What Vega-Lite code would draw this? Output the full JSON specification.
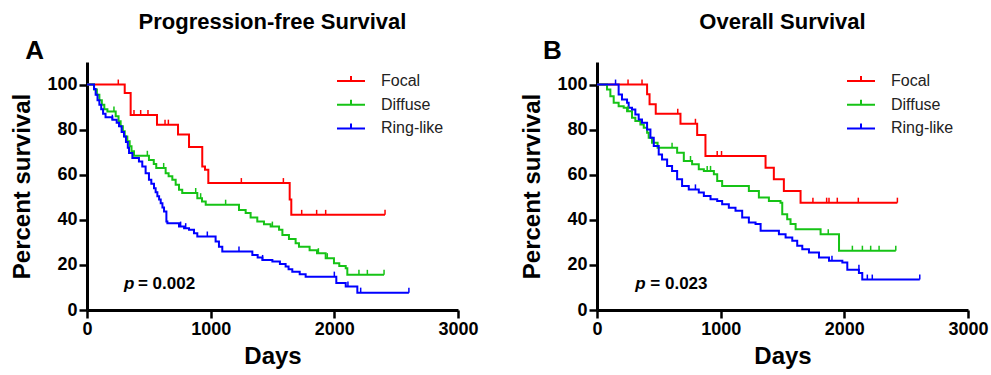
{
  "$schema": "https://vega.github.io/schema/vega-lite/v6.json",
  "padding": {"left": 10, "top": 11, "right": 5, "bottom": 5},
  "background": "white",
  "datasets": {
    "pfs": [
      {"g":"Focal","d":0,"s":100},{"g":"Focal","d":305,"s":96.3},{"g":"Focal","d":353,"s":86.5},{"g":"Focal","d":566,"s":82.2},{"g":"Focal","d":736,"s":77.8},{"g":"Focal","d":825,"s":72.3},{"g":"Focal","d":932,"s":63.7},{"g":"Focal","d":954,"s":62.2},{"g":"Focal","d":981,"s":56.3},{"g":"Focal","d":1639,"s":49},{"g":"Focal","d":1652,"s":42.2},{"g":"Focal","d":2410,"s":42.2},
      {"g":"Diffuse","d":0,"s":100},{"g":"Diffuse","d":57,"s":97.8},{"g":"Diffuse","d":80,"s":95.5},{"g":"Diffuse","d":100,"s":93},{"g":"Diffuse","d":120,"s":91},{"g":"Diffuse","d":140,"s":89},{"g":"Diffuse","d":165,"s":88},{"g":"Diffuse","d":232,"s":85.9},{"g":"Diffuse","d":255,"s":83.7},{"g":"Diffuse","d":272,"s":81.5},{"g":"Diffuse","d":290,"s":79.3},{"g":"Diffuse","d":305,"s":77},{"g":"Diffuse","d":326,"s":74.8},{"g":"Diffuse","d":345,"s":72.6},{"g":"Diffuse","d":360,"s":70.4},{"g":"Diffuse","d":380,"s":68.4},{"g":"Diffuse","d":501,"s":66.5},{"g":"Diffuse","d":540,"s":64.8},{"g":"Diffuse","d":560,"s":63},{"g":"Diffuse","d":636,"s":60.7},{"g":"Diffuse","d":660,"s":59.3},{"g":"Diffuse","d":690,"s":57.8},{"g":"Diffuse","d":717,"s":55.5},{"g":"Diffuse","d":744,"s":53.3},{"g":"Diffuse","d":770,"s":51.9},{"g":"Diffuse","d":892,"s":49.6},{"g":"Diffuse","d":930,"s":48.1},{"g":"Diffuse","d":960,"s":46.7},{"g":"Diffuse","d":1229,"s":44.4},{"g":"Diffuse","d":1283,"s":43},{"g":"Diffuse","d":1323,"s":41},{"g":"Diffuse","d":1377,"s":39.3},{"g":"Diffuse","d":1431,"s":38},{"g":"Diffuse","d":1485,"s":37},{"g":"Diffuse","d":1553,"s":35.6},{"g":"Diffuse","d":1580,"s":33.3},{"g":"Diffuse","d":1633,"s":31.5},{"g":"Diffuse","d":1687,"s":29.6},{"g":"Diffuse","d":1714,"s":28},{"g":"Diffuse","d":1800,"s":26.5},{"g":"Diffuse","d":1860,"s":25.2},{"g":"Diffuse","d":1930,"s":23},{"g":"Diffuse","d":1997,"s":20.7},{"g":"Diffuse","d":2040,"s":19.5},{"g":"Diffuse","d":2092,"s":18.5},{"g":"Diffuse","d":2105,"s":15.6},{"g":"Diffuse","d":2402,"s":15.6},
      {"g":"Ring-like","d":0,"s":100},{"g":"Ring-like","d":57,"s":98},{"g":"Ring-like","d":70,"s":95.5},{"g":"Ring-like","d":85,"s":93},{"g":"Ring-like","d":100,"s":91},{"g":"Ring-like","d":115,"s":89},{"g":"Ring-like","d":130,"s":87},{"g":"Ring-like","d":150,"s":85.5},{"g":"Ring-like","d":205,"s":84.4},{"g":"Ring-like","d":240,"s":83},{"g":"Ring-like","d":259,"s":81.5},{"g":"Ring-like","d":280,"s":79},{"g":"Ring-like","d":299,"s":77},{"g":"Ring-like","d":315,"s":74.5},{"g":"Ring-like","d":330,"s":72},{"g":"Ring-like","d":340,"s":69.6},{"g":"Ring-like","d":367,"s":67.4},{"g":"Ring-like","d":420,"s":65.9},{"g":"Ring-like","d":447,"s":63.7},{"g":"Ring-like","d":474,"s":60.7},{"g":"Ring-like","d":501,"s":57.8},{"g":"Ring-like","d":520,"s":56},{"g":"Ring-like","d":542,"s":54},{"g":"Ring-like","d":555,"s":52.2},{"g":"Ring-like","d":569,"s":50.4},{"g":"Ring-like","d":583,"s":49},{"g":"Ring-like","d":596,"s":47.4},{"g":"Ring-like","d":610,"s":45.5},{"g":"Ring-like","d":623,"s":43.7},{"g":"Ring-like","d":642,"s":39.3},{"g":"Ring-like","d":650,"s":38.5},{"g":"Ring-like","d":744,"s":37},{"g":"Ring-like","d":785,"s":36.3},{"g":"Ring-like","d":825,"s":35.6},{"g":"Ring-like","d":865,"s":34},{"g":"Ring-like","d":892,"s":32.6},{"g":"Ring-like","d":1040,"s":30.4},{"g":"Ring-like","d":1067,"s":28.1},{"g":"Ring-like","d":1094,"s":25.9},{"g":"Ring-like","d":1337,"s":24.4},{"g":"Ring-like","d":1380,"s":23.3},{"g":"Ring-like","d":1418,"s":22.2},{"g":"Ring-like","d":1499,"s":21.5},{"g":"Ring-like","d":1560,"s":20.4},{"g":"Ring-like","d":1606,"s":19.3},{"g":"Ring-like","d":1630,"s":18.1},{"g":"Ring-like","d":1660,"s":17},{"g":"Ring-like","d":1720,"s":15.9},{"g":"Ring-like","d":1768,"s":14.8},{"g":"Ring-like","d":2016,"s":12},{"g":"Ring-like","d":2092,"s":10.4},{"g":"Ring-like","d":2186,"s":7.7},{"g":"Ring-like","d":2603,"s":7.7}
    ],
    "pfsC": [
      {"g":"Focal","d":253,"s":100},{"g":"Focal","d":380,"s":86.5},{"g":"Focal","d":434,"s":86.5},{"g":"Focal","d":493,"s":86.5},{"g":"Focal","d":631,"s":82.2},{"g":"Focal","d":658,"s":82.2},{"g":"Focal","d":1248,"s":56.3},{"g":"Focal","d":1588,"s":56.3},{"g":"Focal","d":1736,"s":42.2},{"g":"Focal","d":1857,"s":42.2},{"g":"Focal","d":1930,"s":42.2},{"g":"Focal","d":2410,"s":42.2},
      {"g":"Diffuse","d":218,"s":88},{"g":"Diffuse","d":488,"s":68.4},{"g":"Diffuse","d":620,"s":63},{"g":"Diffuse","d":879,"s":51.9},{"g":"Diffuse","d":919,"s":49.6},{"g":"Diffuse","d":1121,"s":46.7},{"g":"Diffuse","d":1499,"s":37},{"g":"Diffuse","d":1871,"s":25.2},{"g":"Diffuse","d":1943,"s":23},{"g":"Diffuse","d":2199,"s":15.6},{"g":"Diffuse","d":2267,"s":15.6},{"g":"Diffuse","d":2402,"s":15.6},
      {"g":"Ring-like","d":205,"s":84.4},{"g":"Ring-like","d":757,"s":37},{"g":"Ring-like","d":798,"s":36.3},{"g":"Ring-like","d":973,"s":32.6},{"g":"Ring-like","d":1229,"s":25.9},{"g":"Ring-like","d":1420,"s":22.2},{"g":"Ring-like","d":2000,"s":14.8},{"g":"Ring-like","d":2110,"s":10.4},{"g":"Ring-like","d":2213,"s":7.7},{"g":"Ring-like","d":2603,"s":7.7}
    ],
    "os": [
      {"g":"Focal","d":0,"s":100},{"g":"Focal","d":405,"s":95.7},{"g":"Focal","d":425,"s":91.3},{"g":"Focal","d":475,"s":87},{"g":"Focal","d":675,"s":82.6},{"g":"Focal","d":810,"s":77.6},{"g":"Focal","d":877,"s":68.3},{"g":"Focal","d":1363,"s":63.1},{"g":"Focal","d":1430,"s":58},{"g":"Focal","d":1511,"s":52.8},{"g":"Focal","d":1646,"s":47.6},{"g":"Focal","d":2429,"s":47.6},
      {"g":"Diffuse","d":0,"s":100},{"g":"Diffuse","d":81,"s":97.8},{"g":"Diffuse","d":108,"s":94.8},{"g":"Diffuse","d":135,"s":91.9},{"g":"Diffuse","d":175,"s":90.4},{"g":"Diffuse","d":216,"s":89.7},{"g":"Diffuse","d":243,"s":88.2},{"g":"Diffuse","d":283,"s":85.3},{"g":"Diffuse","d":310,"s":83.8},{"g":"Diffuse","d":351,"s":82.3},{"g":"Diffuse","d":378,"s":80.8},{"g":"Diffuse","d":405,"s":78.6},{"g":"Diffuse","d":418,"s":76.4},{"g":"Diffuse","d":445,"s":74.2},{"g":"Diffuse","d":490,"s":72},{"g":"Diffuse","d":648,"s":69.8},{"g":"Diffuse","d":702,"s":66.1},{"g":"Diffuse","d":769,"s":64.6},{"g":"Diffuse","d":823,"s":62.4},{"g":"Diffuse","d":864,"s":61.7},{"g":"Diffuse","d":945,"s":60.2},{"g":"Diffuse","d":972,"s":57.2},{"g":"Diffuse","d":1012,"s":55},{"g":"Diffuse","d":1228,"s":52.8},{"g":"Diffuse","d":1309,"s":49.9},{"g":"Diffuse","d":1390,"s":48.4},{"g":"Diffuse","d":1484,"s":47.6},{"g":"Diffuse","d":1498,"s":42.5},{"g":"Diffuse","d":1538,"s":40.3},{"g":"Diffuse","d":1565,"s":38.1},{"g":"Diffuse","d":1606,"s":35.8},{"g":"Diffuse","d":1808,"s":33.6},{"g":"Diffuse","d":1957,"s":26.3},{"g":"Diffuse","d":2416,"s":26.3},
      {"g":"Ring-like","d":0,"s":100},{"g":"Ring-like","d":175,"s":95.6},{"g":"Ring-like","d":202,"s":93.4},{"g":"Ring-like","d":243,"s":91.9},{"g":"Ring-like","d":256,"s":89.7},{"g":"Ring-like","d":283,"s":88.9},{"g":"Ring-like","d":310,"s":86.7},{"g":"Ring-like","d":337,"s":84.5},{"g":"Ring-like","d":364,"s":83},{"g":"Ring-like","d":405,"s":80.1},{"g":"Ring-like","d":432,"s":76.4},{"g":"Ring-like","d":459,"s":72.7},{"g":"Ring-like","d":499,"s":69},{"g":"Ring-like","d":526,"s":66.8},{"g":"Ring-like","d":567,"s":63.9},{"g":"Ring-like","d":607,"s":61.7},{"g":"Ring-like","d":648,"s":58},{"g":"Ring-like","d":688,"s":55},{"g":"Ring-like","d":742,"s":53.5},{"g":"Ring-like","d":823,"s":52.1},{"g":"Ring-like","d":864,"s":50.6},{"g":"Ring-like","d":918,"s":49.1},{"g":"Ring-like","d":972,"s":48.4},{"g":"Ring-like","d":1012,"s":46.9},{"g":"Ring-like","d":1066,"s":45.4},{"g":"Ring-like","d":1120,"s":44},{"g":"Ring-like","d":1174,"s":41},{"g":"Ring-like","d":1228,"s":38.8},{"g":"Ring-like","d":1282,"s":38.1},{"g":"Ring-like","d":1323,"s":35.1},{"g":"Ring-like","d":1471,"s":33.6},{"g":"Ring-like","d":1525,"s":32.2},{"g":"Ring-like","d":1579,"s":30.7},{"g":"Ring-like","d":1619,"s":28.5},{"g":"Ring-like","d":1660,"s":27},{"g":"Ring-like","d":1714,"s":25.5},{"g":"Ring-like","d":1795,"s":23.3},{"g":"Ring-like","d":1876,"s":21.8},{"g":"Ring-like","d":1984,"s":21.1},{"g":"Ring-like","d":2024,"s":17.9},{"g":"Ring-like","d":2118,"s":16.4},{"g":"Ring-like","d":2145,"s":13.5},{"g":"Ring-like","d":2610,"s":13.5}
    ],
    "osC": [
      {"g":"Focal","d":251,"s":100},{"g":"Focal","d":364,"s":100},{"g":"Focal","d":653,"s":87},{"g":"Focal","d":796,"s":82.6},{"g":"Focal","d":972,"s":68.3},{"g":"Focal","d":1007,"s":68.3},{"g":"Focal","d":1746,"s":47.6},{"g":"Focal","d":1857,"s":47.6},{"g":"Focal","d":1876,"s":47.6},{"g":"Focal","d":1943,"s":47.6},{"g":"Focal","d":2113,"s":47.6},{"g":"Focal","d":2429,"s":47.6},
      {"g":"Diffuse","d":251,"s":88.2},{"g":"Diffuse","d":607,"s":72},{"g":"Diffuse","d":756,"s":66.1},{"g":"Diffuse","d":891,"s":61.7},{"g":"Diffuse","d":918,"s":61.7},{"g":"Diffuse","d":1870,"s":33.6},{"g":"Diffuse","d":2065,"s":26.3},{"g":"Diffuse","d":2146,"s":26.3},{"g":"Diffuse","d":2213,"s":26.3},{"g":"Diffuse","d":2281,"s":26.3},{"g":"Diffuse","d":2416,"s":26.3},
      {"g":"Ring-like","d":150,"s":100},{"g":"Ring-like","d":796,"s":53.5},{"g":"Ring-like","d":1900,"s":21.8},{"g":"Ring-like","d":2118,"s":17.9},{"g":"Ring-like","d":2186,"s":13.5},{"g":"Ring-like","d":2226,"s":13.5},{"g":"Ring-like","d":2610,"s":13.5}
    ]
  },
  "hconcat": [
    {
      "title": {"text": "Progression-free Survival", "frame": "group"},
      "width": 371,
      "height": 248,
      "layer": [
        {
          "data": {"name": "pfs"},
          "mark": {"type": "line", "interpolate": "step-after", "strokeWidth": 2},
          "encoding": {
            "x": {"field": "d", "type": "quantitative", "title": "Days", "scale": {"domain": [0, 3000], "nice": false}, "axis": {"values": [0, 1000, 2000, 3000], "format": "d"}},
            "y": {"field": "s", "type": "quantitative", "title": "Percent survival", "scale": {"domain": [0, 110], "nice": false}, "axis": {"values": [0, 20, 40, 60, 80, 100], "format": "d"}},
            "color": {"field": "g", "type": "nominal", "scale": {"domain": ["Focal", "Diffuse", "Ring-like"], "range": ["#ff0000", "#16c316", "#0000ff"]}, "legend": {"title": null}}
          }
        },
        {
          "data": {"name": "pfsC"},
          "mark": {"type": "point", "shape": "M0,0L0,-1", "size": 100, "filled": false, "strokeWidth": 1.5, "opacity": 1},
          "encoding": {
            "x": {"field": "d", "type": "quantitative"},
            "y": {"field": "s", "type": "quantitative"},
            "color": {"field": "g", "type": "nominal", "legend": null}
          }
        },
        {
          "data": {"values": [{"t": "A"}]},
          "mark": {"type": "text", "fontSize": 26, "fontWeight": "bold", "align": "center", "baseline": "alphabetic", "color": "black"},
          "encoding": {"x": {"datum": -424}, "y": {"datum": 111.3}, "text": {"field": "t"}}
        },
        {
          "data": {"values": [{"t": "p"}]},
          "mark": {"type": "text", "fontSize": 17, "fontWeight": "bold", "fontStyle": "italic", "align": "left", "baseline": "alphabetic", "color": "black"},
          "encoding": {"x": {"datum": 299}, "y": {"datum": 9.5}, "text": {"field": "t"}}
        },
        {
          "data": {"values": [{"t": "= 0.002"}]},
          "mark": {"type": "text", "fontSize": 17, "fontWeight": "bold", "align": "left", "baseline": "alphabetic", "color": "black"},
          "encoding": {"x": {"datum": 412}, "y": {"datum": 9.5}, "text": {"field": "t"}}
        }
      ]
    },
    {
      "title": {"text": "Overall Survival", "frame": "group"},
      "width": 371,
      "height": 248,
      "layer": [
        {
          "data": {"name": "os"},
          "mark": {"type": "line", "interpolate": "step-after", "strokeWidth": 2},
          "encoding": {
            "x": {"field": "d", "type": "quantitative", "title": "Days", "scale": {"domain": [0, 3000], "nice": false}, "axis": {"values": [0, 1000, 2000, 3000], "format": "d"}},
            "y": {"field": "s", "type": "quantitative", "title": "Percent survival", "scale": {"domain": [0, 110], "nice": false}, "axis": {"values": [0, 20, 40, 60, 80, 100], "format": "d"}},
            "color": {"field": "g", "type": "nominal", "scale": {"domain": ["Focal", "Diffuse", "Ring-like"], "range": ["#ff0000", "#16c316", "#0000ff"]}, "legend": {"title": null}}
          }
        },
        {
          "data": {"name": "osC"},
          "mark": {"type": "point", "shape": "M0,0L0,-1", "size": 100, "filled": false, "strokeWidth": 1.5, "opacity": 1},
          "encoding": {
            "x": {"field": "d", "type": "quantitative"},
            "y": {"field": "s", "type": "quantitative"},
            "color": {"field": "g", "type": "nominal", "legend": null}
          }
        },
        {
          "data": {"values": [{"t": "B"}]},
          "mark": {"type": "text", "fontSize": 26, "fontWeight": "bold", "align": "center", "baseline": "alphabetic", "color": "black"},
          "encoding": {"x": {"datum": -360}, "y": {"datum": 111.3}, "text": {"field": "t"}}
        },
        {
          "data": {"values": [{"t": "p"}]},
          "mark": {"type": "text", "fontSize": 17, "fontWeight": "bold", "fontStyle": "italic", "align": "left", "baseline": "alphabetic", "color": "black"},
          "encoding": {"x": {"datum": 310}, "y": {"datum": 9.5}, "text": {"field": "t"}}
        },
        {
          "data": {"values": [{"t": "= 0.023"}]},
          "mark": {"type": "text", "fontSize": 17, "fontWeight": "bold", "align": "left", "baseline": "alphabetic", "color": "black"},
          "encoding": {"x": {"datum": 431}, "y": {"datum": 9.5}, "text": {"field": "t"}}
        }
      ]
    }
  ],
  "spacing": 139,
  "bounds": "flush",
  "resolve": {"scale": {"color": "independent"}, "legend": {"color": "independent"}},
  "config": {
    "font": "Liberation Sans",
    "view": {"stroke": null},
    "axis": {
      "domainColor": "black", "domainWidth": 3, "tickColor": "black", "tickWidth": 2.5, "tickSize": 8,
      "labelFont": "Liberation Sans", "labelFontSize": 18, "labelFontWeight": "bold", "labelColor": "black", "labelPadding": 2, "labelFlush": false,
      "titleFont": "Liberation Sans", "titleFontSize": 24, "titleFontWeight": "bold", "titleColor": "black", "grid": false
    },
    "axisY": {"titlePadding": 12},
    "axisX": {"titlePadding": 6},
    "title": {"fontSize": 22, "fontWeight": "bold", "color": "black", "font": "Liberation Sans", "anchor": "middle", "offset": 4},
    "legend": {
      "orient": "none", "legendX": 256, "legendY": 11, "padding": 0,
      "symbolType": "M-2,0H2M0,0V-0.7", "symbolSize": 196, "symbolStrokeWidth": 2,
      "labelFont": "Liberation Sans", "labelFontSize": 16, "labelColor": "#222222", "labelOffset": 22, "rowPadding": 6.7
    }
  }
}
